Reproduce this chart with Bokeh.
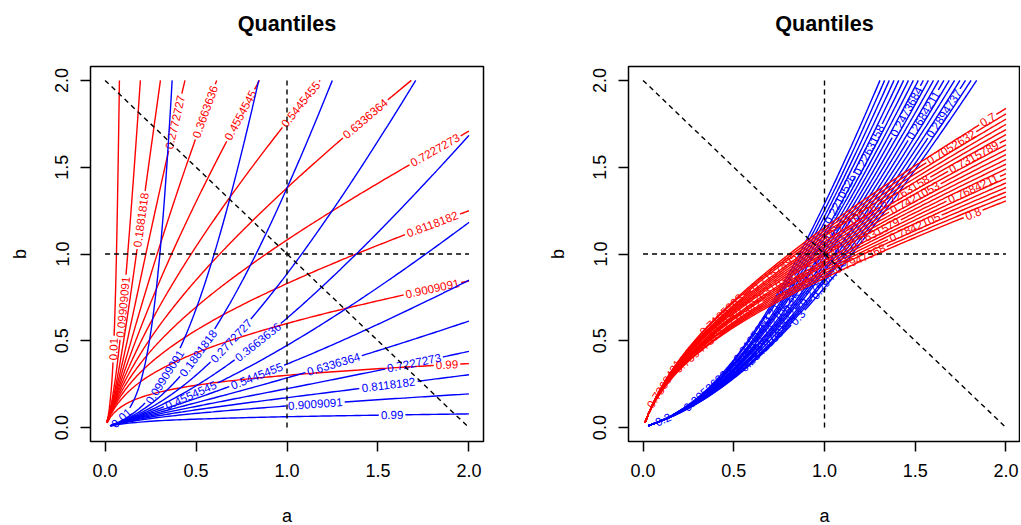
import math
import numpy as np
import contourpy
from bokeh.plotting import figure
from bokeh.layouts import row
from bokeh.models import Range1d, FixedTicker, PrintfTickFormatter, ColumnDataSource, Title
from bokeh.core.properties import value
from bokeh.embed import file_html
from bokeh.resources import INLINE

# ---------------- data ----------------
# parameter grid (a, b) of Beta(a, b)
a_grid = np.linspace(0.01, 2.0, 100)
b_grid = np.linspace(0.01, 2.0, 100)
p_blue = 0.25      # lower quartile -> blue contours
p_red = 0.75       # upper quartile -> red contours
target_ab = (1.0, 1.0)

left_levels = ["0.01", "0.09909091", "0.1881818", "0.2772727", "0.3663636", "0.4554545",
               "0.5445455", "0.6336364", "0.7227273", "0.8118182", "0.9009091", "0.99"]
right_red_levels = ["0.7", "0.7052632", "0.7105263", "0.7157895", "0.7210526", "0.7263158",
                    "0.7315789", "0.7368421", "0.7421053", "0.7473684", "0.7526316", "0.7578947",
                    "0.7631579", "0.7684211", "0.7736842", "0.7789474", "0.7842105", "0.7894737",
                    "0.7947368", "0.8"]
right_blue_levels = ["0.2", "0.2052632", "0.2105263", "0.2157895", "0.2210526", "0.2263158",
                     "0.2315789", "0.2368421", "0.2421053", "0.2473684", "0.2526316", "0.2578947",
                     "0.2631579", "0.2684211", "0.2736842", "0.2789474", "0.2842105", "0.2894737",
                     "0.2947368", "0.3"]
tick_values = [0.0, 0.5, 1.0, 1.5, 2.0]

# label placement hints (a, b)
left_red_anchor = [(0.07, 0.45), (0.10, 0.69), (0.19, 1.19), (0.37, 1.77), (0.54, 1.82), (0.74, 1.81),
                   (1.08, 1.87), (1.41, 1.81), (1.81, 1.61), (1.80, 1.16), (1.80, 0.80), (1.88, 0.36)]
left_blue_anchor = [(0.07, 0.08), (0.30, 0.30), (0.50, 0.44), (0.70, 0.50), (0.83, 0.51), (0.46, 0.20),
                    (0.84, 0.30), (1.26, 0.36), (1.70, 0.38), (1.56, 0.25), (1.15, 0.14), (1.57, 0.08)]
right_red_anchor = [(1.90, 1.77), (1.69, 1.61), (0.45, 0.62), (0.75, 0.85), (1.15, 1.20), (1.40, 1.43),
                    (1.83, 1.55), (0.14, 0.25), (1.50, 1.31), (0.35, 0.52), (0.62, 0.76), (0.95, 0.98),
                    (1.25, 1.18), (1.82, 1.37), (0.50, 0.66), (0.85, 0.90), (1.49, 1.15), (0.28, 0.45),
                    (1.15, 1.05), (1.81, 1.23)]
right_blue_anchor = [(0.09, 0.07), (0.33, 0.23), (0.55, 0.55), (0.75, 0.75), (1.06, 1.34), (1.27, 1.59),
                     (0.45, 0.42), (0.95, 1.05), (0.65, 0.68), (1.45, 1.81), (0.85, 0.80), (0.55, 0.45),
                     (1.10, 1.10), (1.55, 1.79), (0.70, 0.60), (0.95, 0.85), (0.60, 0.50), (1.68, 1.80),
                     (1.00, 0.90), (0.80, 0.70)]

# ---------------- regularized incomplete beta ----------------
FPMIN = 1e-300


def _fix(v):
    return np.where(np.abs(v) < FPMIN, FPMIN, v)


def betacf(a, b, x, n_iter=90):
    qab = a + b
    qap = a + 1.0
    qam = a - 1.0
    c = np.ones_like(a)
    d = 1.0 / _fix(1.0 - qab * x / qap)
    h = d.copy()
    for m in range(1, n_iter + 1):
        m2 = 2 * m
        aa = m * (b - m) * x / ((qam + m2) * (a + m2))
        d = 1.0 / _fix(1.0 + aa * d)
        c = _fix(1.0 + aa / c)
        h = h * d * c
        aa = -(a + m) * (qab + m) * x / ((a + m2) * (qap + m2))
        d = 1.0 / _fix(1.0 + aa * d)
        c = _fix(1.0 + aa / c)
        h = h * d * c
    return h


A, B = np.meshgrid(a_grid, b_grid)
lg = np.vectorize(math.lgamma)
lnBeta = lg(A) + lg(B) - lg(A + B)


def inc_beta(x):
    bt = np.exp(A * math.log(x) + B * math.log1p(-x) - lnBeta)
    direct = x < (A + 1.0) / (A + B + 2.0)
    r1 = bt * betacf(A, B, x) / A
    r2 = 1.0 - bt * betacf(B, A, 1.0 - x) / B
    return np.where(direct, r1, r2)


# ---------------- layout ----------------
FRAME_H = 375
BORDER_TOP = 66
BORDER_BOTTOM = 84
LABEL_PX = 11.6
XR = (-0.08, 2.08)


def contour_with_labels(level_txt, prob, anchor, sx, sy):
    Z = inc_beta(float(level_txt))
    gen = contourpy.contour_generator(x=a_grid, y=b_grid, z=Z)
    lines = [ln for ln in gen.lines(prob) if len(ln) >= 2]
    if not lines:
        return [], None
    ax, ay = anchor[0] * sx, anchor[1] * sy
    best = None
    for k, ln in enumerate(lines):
        d = (ln[:, 0] * sx - ax) ** 2 + (ln[:, 1] * sy - ay) ** 2
        i = int(np.argmin(d))
        if best is None or d[i] < best[0]:
            best = (d[i], k, i)
    _, k, i = best
    segs = [ln for j, ln in enumerate(lines) if j != k]
    ln = lines[k]
    px, py = ln[:, 0] * sx, ln[:, 1] * sy
    s = np.concatenate([[0.0], np.cumsum(np.hypot(np.diff(px), np.diff(py)))])
    nd = sum(ch.isdigit() for ch in level_txt)
    w = (nd * 0.556 + 0.278 * level_txt.count(".")) * LABEL_PX
    half = w / 2 + 2
    if s[-1] < 2 * half + 2:
        segs.append(ln)
        return segs, None
    s0 = min(max(s[i], half), s[-1] - half)

    def at(t):
        return float(np.interp(t, s, ln[:, 0])), float(np.interp(t, s, ln[:, 1]))

    xc, yc = at(s0)
    x1, y1 = at(s0 - half)
    x2, y2 = at(s0 + half)
    ang = math.atan2((y2 - y1) * sy, (x2 - x1) * sx)
    if ang > math.pi / 2:
        ang -= math.pi
    elif ang < -math.pi / 2:
        ang += math.pi
    m1 = s < s0 - half
    m2 = s > s0 + half
    segs.append(np.vstack([ln[m1], [[x1, y1]]]))
    segs.append(np.vstack([[[x2, y2]], ln[m2]]))
    return segs, (xc, yc, ang, level_txt)


def draw_set(p, levels, prob, anchors, color, sx, sy):
    xs, ys = [], []
    lab = dict(x=[], y=[], angle=[], text=[])
    for txt, anc in zip(levels, anchors):
        segs, info = contour_with_labels(txt, prob, anc, sx, sy)
        for sg in segs:
            if len(sg) >= 2:
                xs.append(sg[:, 0].tolist())
                ys.append(sg[:, 1].tolist())
        if info is not None:
            lab["x"].append(info[0])
            lab["y"].append(info[1])
            lab["angle"].append(info[2])
            lab["text"].append(info[3])
    p.multi_line(xs, ys, line_color=color, line_width=1.4)
    p.text(x="x", y="y", text="text", angle="angle", source=ColumnDataSource(lab),
           text_color=color, text_font=value("Liberation Sans"), text_font_size=f"{LABEL_PX}px",
           text_align="center", text_baseline="middle")


def make_fig(frame_w, border_left, border_right):
    p = figure(frame_width=frame_w, frame_height=FRAME_H,
               min_border_left=border_left, min_border_right=border_right,
               min_border_top=BORDER_TOP, min_border_bottom=BORDER_BOTTOM,
               x_range=Range1d(*XR), y_range=Range1d(*XR),
               output_backend="svg", toolbar_location=None,
               x_axis_label="a", y_axis_label="b")
    # spacer between frame and title (nearest the frame)
    p.add_layout(Title(text=" ", text_font_size="1px", standoff=23), "above")
    p.title.text = "Quantiles"
    p.title.align = "center"
    p.title.text_font = "Liberation Sans"
    p.title.text_font_size = "21.6px"
    p.title.text_font_style = "bold"
    p.title.text_color = "black"
    p.title.standoff = 10
    p.outline_line_color = "black"
    p.outline_line_width = 1.5
    p.outline_line_alpha = 1.0
    p.xgrid.visible = False
    p.ygrid.visible = False
    p.background_fill_color = "white"
    p.border_fill_color = "white"
    for ax in (p.xaxis[0], p.yaxis[0]):
        ax.ticker = FixedTicker(ticks=tick_values)
        ax.formatter = PrintfTickFormatter(format="%.1f")
        ax.axis_line_color = None
        ax.major_tick_in = 0
        ax.major_tick_out = 10
        ax.major_tick_line_width = 1.5
        ax.major_tick_line_color = "black"
        ax.minor_tick_line_color = None
        ax.major_label_text_font = "Liberation Sans"
        ax.major_label_text_font_size = "18px"
        ax.major_label_text_color = "black"
        ax.axis_label_text_font = "Liberation Sans"
        ax.axis_label_text_font_size = "18px"
        ax.axis_label_text_font_style = "normal"
        ax.axis_label_text_color = "black"
    p.xaxis[0].major_label_standoff = 12
    p.xaxis[0].axis_label_standoff = 26
    p.yaxis[0].major_label_orientation = "vertical"
    p.yaxis[0].major_label_standoff = 12
    p.yaxis[0].axis_label_standoff = 23
    return p


def ref_lines(p):
    ta, tb = target_ab
    s = ta + tb
    hi = tick_values[-1]
    p.segment(x0=[ta, 0.0, 0.0], y0=[0.0, tb, s], x1=[ta, hi, s], y1=[hi, tb, 0.0],
              line_color="black", line_width=1.4, line_dash="5 4")


SPAN = XR[1] - XR[0]
syL = FRAME_H / SPAN

# left panel
FW_L = 393
p1 = make_fig(FW_L, 90, 59)
sxL = FW_L / SPAN
draw_set(p1, left_levels, p_red, left_red_anchor, "#FF0000", sxL, syL)
draw_set(p1, left_levels, p_blue, left_blue_anchor, "#0000FF", sxL, syL)
ref_lines(p1)

# right panel
FW_R = 392
p2 = make_fig(FW_R, 86, 0)
sxR = FW_R / SPAN
draw_set(p2, right_blue_levels, p_blue, right_blue_anchor, "#0000FF", sxR, syL)
draw_set(p2, right_red_levels, p_red, right_red_anchor, "#FF0000", sxR, syL)
ref_lines(p2)

layout = row(p1, p2)
open("out.html", "w").write(file_html(layout, INLINE))
